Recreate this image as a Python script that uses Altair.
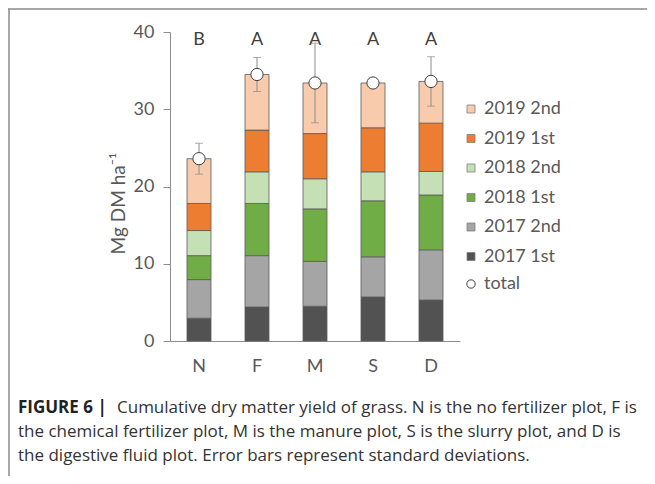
import altair as alt
import pandas as pd

groups = ["N", "F", "M", "S", "D"]
series_names = ["2017 1st", "2017 2nd", "2018 1st", "2018 2nd", "2019 1st", "2019 2nd"]
seg_2017_1st = [2.95, 4.4, 4.5, 5.7, 5.3]
seg_2017_2nd = [5.0, 6.65, 5.8, 5.2, 6.5]
seg_2018_1st = [3.1, 6.75, 6.8, 7.25, 7.1]
seg_2018_2nd = [3.25, 4.1, 3.9, 3.75, 3.05]
seg_2019_1st = [3.5, 5.4, 5.85, 5.7, 6.25]
seg_2019_2nd = [5.8, 7.2, 6.55, 5.8, 5.4]
totals = [23.6, 34.5, 33.4, 33.4, 33.6]
sds = [2.0, 2.2, 5.15, 0.3, 3.2]
letters = ["B", "A", "A", "A", "A"]
letter_level = [39, 39, 39, 39, 39]
series_colors = ["#525252", "#a5a5a5", "#70ad47", "#c5e0b4", "#ed7d31", "#f8cbad"]
caption_bold = "FIGURE 6 |"
caption_lines = [
    "Cumulative dry matter yield of grass. N is the no fertilizer plot, F is",
    "the chemical fertilizer plot, M is the manure plot, S is the slurry plot, and D is",
    "the digestive fluid plot. Error bars represent standard deviations.",
]

segs = [seg_2017_1st, seg_2017_2nd, seg_2018_1st, seg_2018_2nd, seg_2019_1st, seg_2019_2nd]
rows = []
for i, name in enumerate(series_names):
    for g, v in zip(groups, segs[i]):
        rows.append({"group": g, "series": name, "value": v, "idx": i})
bar_df = pd.DataFrame(rows)

tot_df = pd.DataFrame({
    "group": groups,
    "total": totals,
    "lo": [t - s for t, s in zip(totals, sds)],
    "hi": [t + s for t, s in zip(totals, sds)],
    "letter": letters,
    "lev": letter_level,
    "lbl": ["total"] * len(groups),
})

FONT = "Lato"
CAPFONT = "Open Sans"
GRAY = "#595959"
AX = "#8c8c8c"
FS = 18
CFS = 17

x_enc = alt.X("group:N", sort=groups,
              scale=alt.Scale(paddingInner=0.586, paddingOuter=0.293),
              axis=alt.Axis(title=None, ticks=False, labelAngle=0, labelFontSize=FS,
                            labelFont=FONT, labelColor=GRAY, labelPadding=16,
                            domainColor=AX, grid=False))
y_scale = alt.Scale(domain=[0, 40], nice=False)

legend_order = list(reversed(series_names))
legend_colors = list(reversed(series_colors))

bars = alt.Chart(bar_df).mark_bar(stroke="#5a5a5a", strokeWidth=0.8).encode(
    x=x_enc,
    y=alt.Y("value:Q", stack="zero", scale=y_scale,
            axis=alt.Axis(values=[0, 10, 20, 30, 40], tickSize=7, tickColor=AX,
                          domainColor=AX, labelFontSize=FS, labelFont=FONT,
                          labelColor=GRAY, labelPadding=9, grid=False,
                          title="Mg DM ha⁻¹", titleFont=FONT, titleFontSize=19,
                          titleFontWeight="normal", titleColor=GRAY,
                          titleAngle=270, titleX=-52, titleY=171,
                          titleAlign="center", titleBaseline="middle")),
    color=alt.Color("series:N",
                    scale=alt.Scale(domain=legend_order, range=legend_colors),
                    legend=alt.Legend(orient="none", legendX=292, legendY=68,
                                      title=None, symbolType="square", symbolSize=64,
                                      symbolStrokeColor="#7f7f7f", symbolStrokeWidth=0.8,
                                      labelFont=FONT, labelFontSize=FS, labelColor=GRAY,
                                      labelOffset=4, rowPadding=11.5, padding=0)),
    order=alt.Order("idx:Q"),
)

base = alt.Chart(tot_df)
err = base.mark_rule(color="#8c8c8c", strokeWidth=1).encode(
    x=x_enc, y=alt.Y("lo:Q", scale=y_scale), y2="hi:Q")
cap_hi = base.mark_tick(color="#8c8c8c", thickness=1, size=8, orient="horizontal").encode(
    x=x_enc, y=alt.Y("hi:Q", scale=y_scale))
cap_lo = base.mark_tick(color="#8c8c8c", thickness=1, size=8, orient="horizontal").encode(
    x=x_enc, y=alt.Y("lo:Q", scale=y_scale))
pts = base.mark_point(filled=False, fill="white", strokeWidth=1,
                      size=150, opacity=1, fillOpacity=1).encode(
    x=x_enc, y=alt.Y("total:Q", scale=y_scale),
    stroke=alt.Stroke("lbl:N", scale=alt.Scale(domain=["total"], range=["#404040"]),
                      legend=alt.Legend(orient="none", legendX=292, legendY=243,
                                        title=None, symbolSize=70, symbolType="circle",
                                        symbolFillColor="white",
                                        symbolStrokeWidth=1, labelFont=FONT,
                                        labelFontSize=FS, labelColor=GRAY,
                                        labelOffset=4, padding=0)),
)
let = base.mark_text(font=FONT, fontSize=FS, color="#404040", baseline="middle").encode(
    x=x_enc, y=alt.Y("lev:Q", scale=y_scale), text="letter:N")

cap_b = alt.Chart(pd.DataFrame({"t": [caption_bold]})).mark_text(
    font=CAPFONT, fontSize=CFS, fontWeight="bold", color="#222222",
    align="left", baseline="middle").encode(
    x=alt.value(-152), y=alt.value(376), text="t:N")
cap_layers = []
cap_x = [-53, -152, -152]
cap_y = [376, 400, 424]
for line, cx, cy in zip(caption_lines, cap_x, cap_y):
    cap_layers.append(alt.Chart(pd.DataFrame({"t": [line]})).mark_text(
        font=CAPFONT, fontSize=CFS, color="#333333",
        align="left", baseline="middle").encode(
        x=alt.value(cx), y=alt.value(cy), text="t:N"))

frame_df = pd.DataFrame({"k": [0]})
top_line = alt.Chart(frame_df).mark_rule(color="#8a8a8a", strokeWidth=1.5).encode(
    x=alt.value(-162), x2=alt.value(480), y=alt.value(-23))
left_line = alt.Chart(frame_df).mark_rule(color="#8a8a8a", strokeWidth=1.5).encode(
    x=alt.value(-161), y=alt.value(-23), y2=alt.value(444))

chart = alt.layer(bars, err, cap_hi, cap_lo, pts, let, cap_b, *cap_layers,
                  top_line, left_line).resolve_scale(color="independent", stroke="independent").properties(
    width=290, height=309,
    autosize=alt.AutoSizeParams(type="none"),
    padding={"left": 162, "top": 24, "right": 187, "bottom": 135},
).configure_view(stroke=None)

chart.save("out.html", embed_options={"renderer": "svg", "actions": False})
